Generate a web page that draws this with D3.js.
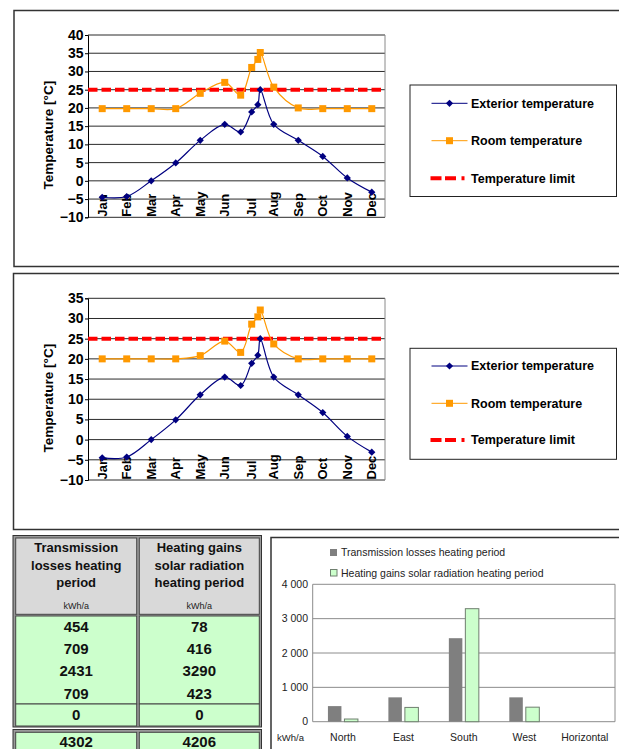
<!DOCTYPE html>
<html>
<head>
<meta charset="utf-8">
<script src="https://cdn.jsdelivr.net/npm/d3@7/dist/d3.min.js"></script>
<style>
  html, body { margin: 0; padding: 0; background: #fff; }
  svg { display: block; }
  text { font-family: "Liberation Sans", Arial, sans-serif; }
</style>
</head>
<body>
<svg id="page" width="619" height="749"></svg>
<script>
// ---- Monthly temperature series (x = month index, Jan = 0) ----
const monthIndex  = [0, 1, 2, 3, 4, 5, 5.65, 6.1, 6.35, 6.45, 7, 8, 9, 10, 11];
const monthLabels = ["Jan","Feb","Mar","Apr","May","Jun","","Jul","","","Aug","Sep","Oct","Nov","Dec"];
const exteriorTemp = [-4.5, -4.3, 0, 4.9, 11.1, 15.5, 13.4, 18.9, 20.9, 25, 15.5, 11.1, 6.7, 0.8, -3.1];
const roomTempCaseA = [19.8, 19.8, 19.8, 19.8, 24, 27, 23.5, 31.1, 33.3, 35.2, 25.7, 20, 19.8, 19.8, 19.8];
const roomTempCaseB = [20, 20, 20, 20, 20.8, 24.4, 21.6, 28.6, 30.4, 32.1, 23.7, 20, 20, 20, 20];
const temperatureLimit = 25;
const tempTicksA = [-10, -5, 0, 5, 10, 15, 20, 25, 30, 35, 40];
const tempTicksB = [-10, -5, 0, 5, 10, 15, 20, 25, 30, 35];
const seriesNames = ["Exterior temperature", "Room temperature", "Temperature limit"];

// ---- Heating period balance by orientation ----
const orientations = ["North", "East", "South", "West", "Horizontal"];
const transmissionLosses = [454, 709, 2431, 709, 0];
const solarGains = [78, 416, 3290, 423, 0];
const totalLosses = 4302;
const totalGains = 4206;
const energyTicks = [0, 1000, 2000, 3000, 4000];
const tableHeaders = [["Transmission", "losses heating", "period"], ["Heating gains", "solar radiation", "heating period"]];
const unitLabel = "kWh/a";
const barSeriesNames = ["Transmission losses heating period", "Heating gains solar radiation heating period"];

const svg = d3.select("#page");
const NAVY = "#000080", ORANGE = "#ff9900", RED = "#ff0000";

function tempChart(o) {
  const g = svg.append("g");
  // outer frame
  g.append("rect").attr("x", o.box[0]).attr("y", o.box[1])
    .attr("width", o.box[2]).attr("height", o.box[3])
    .attr("fill", "#fff").attr("stroke", "#333").attr("stroke-width", 1.5);

  const x = d3.scaleLinear().domain([-0.58, 11.54]).range([o.left, o.right]);
  const y = d3.scaleLinear().domain(o.domain).range([o.bottom, o.top]);

  // horizontal gridlines
  g.selectAll(".grid").data(o.ticks).join("line")
    .attr("x1", o.left).attr("x2", o.right)
    .attr("y1", d => y(d)).attr("y2", d => y(d))
    .attr("stroke", "#2a2a2a").attr("stroke-width", 1);
  // plot right border
  g.append("line").attr("x1", o.right).attr("x2", o.right)
    .attr("y1", o.top).attr("y2", o.bottom).attr("stroke", "#8a8a8a");

  // y axis
  const yAxis = d3.axisLeft(y).tickValues(o.ticks).tickSize(3).tickPadding(1.5).tickFormat(d3.format("d"));
  const ya = g.append("g").attr("transform", `translate(${o.left},0)`).call(yAxis);
  ya.select(".domain").attr("stroke", "#000");
  ya.selectAll(".tick line").attr("stroke", "#000");
  ya.selectAll("text").attr("font-size", 14).attr("font-weight", "bold")
    .attr("fill", "#000").attr("font-family", "Liberation Sans, Arial, sans-serif");

  // y title
  g.append("text")
    .attr("transform", `translate(48,${(o.top + o.bottom) / 2 + 9}) rotate(-90)`)
    .attr("text-anchor", "middle").attr("dy", "0.35em")
    .attr("font-size", 13.5).attr("font-weight", "bold").text("Temperature [°C]");

  // month labels, rotated, sitting on the bottom axis
  g.selectAll(".mlab").data(monthIndex.map((m, i) => ({ m, l: monthLabels[i] })).filter(d => d.l))
    .join("text")
    .attr("transform", d => `translate(${x(d.m)},${o.bottom - 0.5}) rotate(-90)`)
    .attr("text-anchor", "start").attr("dy", "0.36em")
    .attr("font-size", 13).attr("font-weight", "bold").text(d => d.l);

  // temperature limit
  g.append("line").attr("x1", o.left).attr("x2", o.right - 3)
    .attr("y1", y(temperatureLimit)).attr("y2", y(temperatureLimit))
    .attr("stroke", RED).attr("stroke-width", 4).attr("stroke-dasharray", "9.5,4");

  const line = d3.line().curve(d3.curveCatmullRom.alpha(0.5));

  // room temperature
  const roomPts = monthIndex.map((m, i) => [x(m), y(o.room[i])]);
  g.append("path").attr("d", line(roomPts)).attr("fill", "none")
    .attr("stroke", ORANGE).attr("stroke-width", 1.2);
  g.selectAll(".rm").data(roomPts).join("rect")
    .attr("x", d => d[0] - 3.5).attr("y", d => d[1] - 3.5)
    .attr("width", 7).attr("height", 7).attr("fill", ORANGE);

  // exterior temperature
  const extPts = monthIndex.map((m, i) => [x(m), y(exteriorTemp[i])]);
  g.append("path").attr("d", line(extPts)).attr("fill", "none")
    .attr("stroke", NAVY).attr("stroke-width", 1.2);
  g.selectAll(".em").data(extPts).join("path")
    .attr("transform", d => `translate(${d[0]},${d[1]})`)
    .attr("d", "M0,-3.6L3.6,0L0,3.6L-3.6,0Z").attr("fill", NAVY);

  // legend
  const L = o.legend;
  g.append("rect").attr("x", L.x).attr("y", L.y).attr("width", L.w).attr("height", L.h)
    .attr("fill", "#fff").attr("stroke", "#222").attr("stroke-width", 1);
  const lx0 = L.x + 21.5, lx1 = L.x + 57.5, lmid = (lx0 + lx1) / 2;
  seriesNames.forEach((name, i) => {
    const ly = L.y + L.rows[i];
    if (i === 0) {
      g.append("line").attr("x1", lx0).attr("x2", lx1).attr("y1", ly).attr("y2", ly).attr("stroke", NAVY);
      g.append("path").attr("transform", `translate(${lmid},${ly})`).attr("d", "M0,-3.6L3.6,0L0,3.6L-3.6,0Z").attr("fill", NAVY);
    } else if (i === 1) {
      g.append("line").attr("x1", lx0).attr("x2", lx1).attr("y1", ly).attr("y2", ly).attr("stroke", ORANGE);
      g.append("rect").attr("x", lmid - 3.5).attr("y", ly - 3.5).attr("width", 7).attr("height", 7).attr("fill", ORANGE);
    } else {
      g.append("line").attr("x1", lx0 - 1).attr("x2", lx1 + 1).attr("y1", ly).attr("y2", ly)
        .attr("stroke", RED).attr("stroke-width", 4).attr("stroke-dasharray", "11,3.5,11,5.5,3,20");
    }
    g.append("text").attr("x", L.x + 61).attr("y", ly).attr("dy", "0.35em")
      .attr("font-size", 12.5).attr("font-weight", "bold").text(name);
  });
}

tempChart({
  box: [14, 10.5, 620, 256], left: 88, right: 385, top: 35, bottom: 217.3,
  domain: [-10, 40], ticks: tempTicksA, room: roomTempCaseA,
  legend: { x: 410, y: 85, w: 206.5, h: 111.5, rows: [18.3, 55.7, 93.3] }
});
tempChart({
  box: [13.5, 273.5, 620, 256], left: 88, right: 385, top: 298.3, bottom: 480,
  domain: [-10, 35], ticks: tempTicksB, room: roomTempCaseB,
  legend: { x: 410, y: 348.3, w: 206.5, h: 111, rows: [17.7, 55, 91.7] }
});

// ---- Table of heating period values ----
(function table() {
  const g = svg.append("g");
  const colX = [[15.7, 136.7], [139.3, 259.3]];
  g.append("rect").attr("x", 13).attr("y", 535.5).attr("width", 248.5).attr("height", 191.5)
    .attr("fill", "#9a9a9a").attr("stroke", "#333").attr("stroke-width", 1);
  g.append("rect").attr("x", 13).attr("y", 729.5).attr("width", 248.5).attr("height", 30)
    .attr("fill", "#9a9a9a").attr("stroke", "#333").attr("stroke-width", 1);
  const cols = [transmissionLosses, solarGains];
  const totals = [totalLosses, totalGains];
  colX.forEach(([a, b], c) => {
    const cx = (a + b) / 2;
    g.append("rect").attr("x", a).attr("y", 538).attr("width", b - a).attr("height", 76.3)
      .attr("fill", "#d9d9d9").attr("stroke", "#444");
    tableHeaders[c].forEach((t, k) => {
      g.append("text").attr("x", cx).attr("y", 552 + k * 17.7).attr("text-anchor", "middle")
        .attr("font-size", 13).attr("font-weight", "bold").attr("fill", "#111").text(t);
    });
    g.append("text").attr("x", cx).attr("y", 608.5).attr("text-anchor", "middle")
      .attr("font-size", 9).attr("fill", "#222").text(unitLabel);
    // vertical surfaces share one cell, horizontal surface is separate
    g.append("rect").attr("x", a).attr("y", 616).attr("width", b - a).attr("height", 88)
      .attr("fill", "#ccffcc").attr("stroke", "#444");
    g.append("rect").attr("x", a).attr("y", 704).attr("width", b - a).attr("height", 22)
      .attr("fill", "#ccffcc").attr("stroke", "#444");
    cols[c].forEach((v, r) => {
      const yy = r < 4 ? 632 + r * 22.2 : 720;
      g.append("text").attr("x", cx).attr("y", yy).attr("text-anchor", "middle")
        .attr("font-size", 15).attr("font-weight", "bold").attr("fill", "#111").text(v);
    });
    g.append("rect").attr("x", a).attr("y", 732.3).attr("width", b - a).attr("height", 30)
      .attr("fill", "#ccffcc").attr("stroke", "#444");
    g.append("text").attr("x", cx).attr("y", 747).attr("text-anchor", "middle")
      .attr("font-size", 15).attr("font-weight", "bold").attr("fill", "#111").text(totals[c]);
  });
})();

// ---- Bar chart of losses and gains by orientation ----
(function bars() {
  const g = svg.append("g");
  g.append("rect").attr("x", 271).attr("y", 537.5).attr("width", 360).attr("height", 230)
    .attr("fill", "#fff").attr("stroke", "#333").attr("stroke-width", 1.5);
  const left = 312.7, right = 615, top = 584.3, bottom = 721.7;
  const x = d3.scaleBand().domain(orientations).range([left, right]);
  const y = d3.scaleLinear().domain([0, 4000]).range([bottom, top]);
  const fmt = d => d3.format(",")(d).replace(/,/g, " ");

  g.selectAll(".gl").data(energyTicks).join("line")
    .attr("x1", left).attr("x2", right).attr("y1", d => y(d)).attr("y2", d => y(d))
    .attr("stroke", "#8c8c8c");
  g.append("line").attr("x1", left).attr("x2", left).attr("y1", top).attr("y2", bottom).attr("stroke", "#8c8c8c");
  g.append("line").attr("x1", right).attr("x2", right).attr("y1", top).attr("y2", bottom).attr("stroke", "#8c8c8c");

  g.selectAll(".yl").data(energyTicks).join("text")
    .attr("x", 308).attr("y", d => y(d)).attr("dy", "0.35em").attr("text-anchor", "end")
    .attr("font-size", 10.5).attr("fill", "#222").text(fmt);

  const bw = 13.5, gap = 3;
  orientations.forEach((o, i) => {
    const c = x(o) + x.bandwidth() / 2;
    g.append("rect").attr("x", c - gap / 2 - bw).attr("y", y(transmissionLosses[i]))
      .attr("width", bw).attr("height", bottom - y(transmissionLosses[i])).attr("fill", "#7f7f7f");
    if (solarGains[i] > 0) {
      g.append("rect").attr("x", c + gap / 2).attr("y", y(solarGains[i]))
        .attr("width", bw).attr("height", bottom - y(solarGains[i]))
        .attr("fill", "#ccffcc").attr("stroke", "#6f7f6f").attr("stroke-width", 1);
    }
    g.append("text").attr("x", c).attr("y", 741).attr("text-anchor", "middle")
      .attr("font-size", 10.5).attr("fill", "#222").text(o);
  });
  g.append("text").attr("x", 277).attr("y", 741).attr("font-size", 9.5).attr("fill", "#222").text(unitLabel);

  // legend
  g.append("rect").attr("x", 330).attr("y", 549).attr("width", 7).attr("height", 7).attr("fill", "#7f7f7f");
  g.append("rect").attr("x", 330.5).attr("y", 569.5).attr("width", 6.5).attr("height", 6.5)
    .attr("fill", "#ccffcc").attr("stroke", "#6f7f6f");
  barSeriesNames.forEach((t, i) => {
    g.append("text").attr("x", 341).attr("y", 552.7 + i * 20.6).attr("dy", "0.35em")
      .attr("font-size", 10.5).attr("fill", "#222").text(t);
  });
})();
</script>
</body>
</html>
